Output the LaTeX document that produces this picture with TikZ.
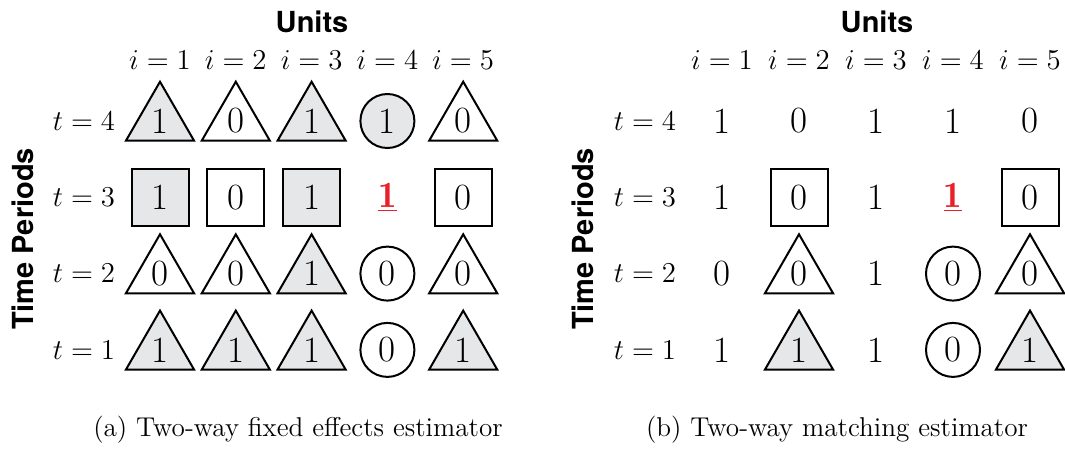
\documentclass[tikz,border=0pt]{standalone}
\usepackage{fontspec}
\newfontfamily\herosfont{TeX Gyre Heros}
\usetikzlibrary{shapes.geometric}
\definecolor{gris}{RGB}{230,231,233}
\definecolor{rouge}{RGB}{232,32,42}
\tikzset{
  cell/.style={inner sep=0pt, line width=1pt, font=\fontsize{18.5}{21}\selectfont},
  tri/.style={cell, draw, regular polygon, regular polygon sides=3, minimum size=39.3pt},
  rond/.style={cell, draw, circle, minimum size=27pt},
  carre/.style={cell, draw, rectangle, minimum size=28.5pt},
  nu/.style={cell},
  traite/.style={cell, text=rouge},
  plein/.style={fill=gris},
  vide/.style={},
  lab/.style={font=\fontsize{14.6}{17}\selectfont},
  legende/.style={font=\fontsize{13.6}{16}\selectfont},
  titre/.style={font=\herosfont\bfseries\fontsize{14.5}{17}\selectfont},
}
\begin{document}
\begin{tikzpicture}[x=0.5pt, y=-0.5pt] % 1 unité = 1 pixel de la figure
  \useasboundingbox (0,0) rectangle (1065,451);

  % Titres
  \node[titre] (unitsA) at (312,22) {Units};
  \node[titre] (unitsB) at (877,22) {Units};
  \node[titre, rotate=90] (periodsA) at (23,239) {Time Periods};
  \node[titre, rotate=90] (periodsB) at (583,239) {Time Periods};

  % Etiquettes des unités et des périodes
  \foreach \i in {1,...,5} {
    \node[lab] (iA-\i) at ({160+75.8*(\i-1)},60) {$i=\i$};
    \node[lab] (iB-\i) at ({722+77*(\i-1)},60) {$i=\i$};
  }
  \foreach \t in {1,...,4} {
    \node[lab] (tA-\t) at (84,{121+76.3*(4-\t)}) {$t=\t$};
    \node[lab] (tB-\t) at (645,{121+76.3*(4-\t)}) {$t=\t$};
  }

  % Panneau (a) : lignes t=4, 3, 2, 1
  \foreach \forme/\etat/\v [count=\k from 0] in {
      tri/plein/1, tri/vide/0, tri/plein/1, rond/plein/1, tri/vide/0,
      carre/plein/1, carre/vide/0, carre/plein/1, traite/vide/{$\underline{\mathbf{1}}$}, carre/vide/0,
      tri/vide/0, tri/vide/0, tri/plein/1, rond/vide/0, tri/vide/0,
      tri/plein/1, tri/plein/1, tri/plein/1, rond/vide/0, tri/plein/1} {
    \pgfmathtruncatemacro\c{mod(\k,5)+1}
    \pgfmathtruncatemacro\t{4-div(\k,5)}
    \node[\forme, \etat] (A-\c-\t) at ({160+75.8*(\c-1)},{121+76.3*(4-\t)}) {\v};
  }

  % Panneau (b)
  \foreach \forme/\etat/\v [count=\k from 0] in {
      nu/vide/1, nu/vide/0, nu/vide/1, nu/vide/1, nu/vide/0,
      nu/vide/1, carre/vide/0, nu/vide/1, traite/vide/{$\underline{\mathbf{1}}$}, carre/vide/0,
      nu/vide/0, tri/vide/0, nu/vide/1, rond/vide/0, tri/vide/0,
      nu/vide/1, tri/plein/1, nu/vide/1, rond/vide/0, tri/plein/1} {
    \pgfmathtruncatemacro\c{mod(\k,5)+1}
    \pgfmathtruncatemacro\t{4-div(\k,5)}
    \node[\forme, \etat] (B-\c-\t) at ({722+77*(\c-1)},{121+76.3*(4-\t)}) {\v};
  }

  % Légendes
  \node[legende] (capA) at (298,430) {(a) Two-way fixed effects estimator};
  \node[legende] (capB) at (837,430) {(b) Two-way matching estimator};
\end{tikzpicture}
\end{document}
